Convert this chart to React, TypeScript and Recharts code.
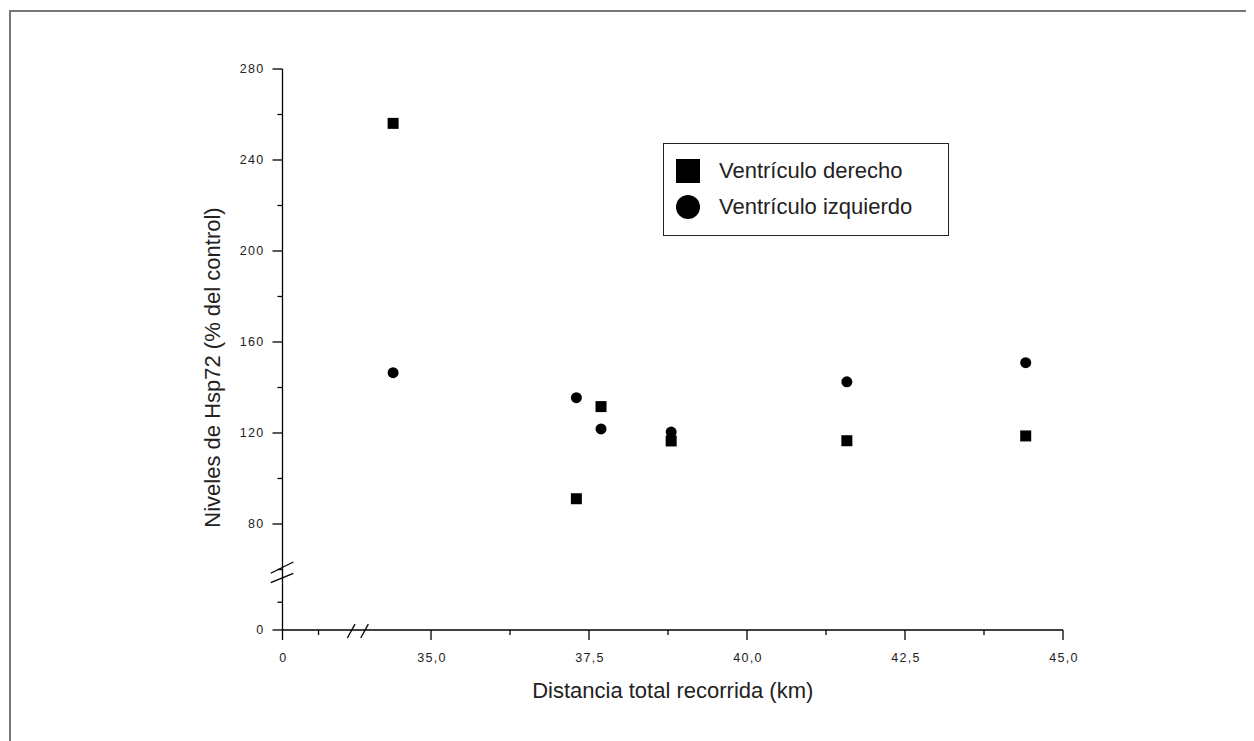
import React from 'react';
import { ScatterChart, Scatter, XAxis, YAxis, ReferenceLine } from 'recharts';

// ---- data ----
const distancias = [34.4, 37.3, 37.69, 38.8, 41.58, 44.41];
const derechoY = [256.1, 91.1, 131.6, 116.5, 116.6, 118.7];
const izquierdoY = [146.5, 135.5, 121.8, 120.4, 142.5, 150.9];

const xMajorTicks = [0, 35, 37.5, 40, 42.5, 45];
const xTickLabels = ['0', '35,0', '37,5', '40,0', '42,5', '45,0'];
const xMinorTicks = [5, 36.25, 38.75, 41.25, 43.75];

const yMajorTicks = [0, 80, 120, 160, 200, 240, 280];
const yTickLabels = ['0', '80', '120', '160', '200', '240', '280'];
const yMinorTicks = [10, 60, 100, 140, 180, 220, 260];

const seriesNames = ['Ventrículo derecho', 'Ventrículo izquierdo'];

// ---- broken-axis mapping (lower segment compressed) ----
const axX = (v: number) => (v < 20 ? 32.65 + v * 0.114 : v);
const axY = (v: number) => (v < 50 ? 33.4 + v * 1.22 : v);

const derechoData = distancias.map((x, i) => ({ x: axX(x), y: axY(derechoY[i]) }));
const izquierdoData = distancias.map((x, i) => ({ x: axX(x), y: axY(izquierdoY[i]) }));

const FONT = '"Liberation Sans", Arial, Helvetica, sans-serif';

const findMajor = (list: number[], map: (v: number) => number, v: number) =>
  list.findIndex((t) => Math.abs(map(t) - v) < 1e-6);

const XTick = (props: any) => {
  const { x, y, payload } = props;
  const idx = findMajor(xMajorTicks, axX, payload.value);
  const major = idx >= 0;
  return (
    <g>
      <line x1={x} x2={x} y1={y} y2={y + (major ? 10 : 5)} stroke="#000" strokeWidth={1.3} />
      {major && (
        <text
          x={x + 1}
          y={y + 28}
          textAnchor="middle"
          dominantBaseline="central"
          fontFamily={FONT}
          fontSize={12.5}
          letterSpacing={1.3}
          fill="#222"
        >
          {xTickLabels[idx]}
        </text>
      )}
    </g>
  );
};

const YTick = (props: any) => {
  const { x, y, payload } = props;
  const idx = findMajor(yMajorTicks, axY, payload.value);
  const major = idx >= 0;
  return (
    <g>
      <line x1={x} x2={x - (major ? 10 : 5)} y1={y} y2={y} stroke="#000" strokeWidth={1.3} />
      {major && (
        <text
          x={x - 18}
          y={y}
          textAnchor="end"
          dominantBaseline="central"
          fontFamily={FONT}
          fontSize={12.5}
          letterSpacing={1.3}
          fill="#222"
        >
          {yTickLabels[idx]}
        </text>
      )}
    </g>
  );
};

const SquareShape = (props: any) => {
  const { cx, cy } = props;
  return <rect x={cx - 5.5} y={cy - 5.5} width={11} height={11} fill="#000" />;
};
const CircleShape = (props: any) => {
  const { cx, cy } = props;
  return <circle cx={cx} cy={cy} r={5.5} fill="#000" />;
};

const xTicksAll = [...xMajorTicks, ...xMinorTicks].map(axX).sort((a, b) => a - b);
const yTicksAll = [...yMajorTicks, ...yMinorTicks].map(axY).sort((a, b) => a - b);

export default function App() {
  return (
    <div style={{ position: 'relative', width: 1246, height: 733, overflow: 'hidden', background: '#fff' }}>
      <div
        style={{
          position: 'absolute',
          left: 1,
          top: 2,
          width: 1400,
          height: 900,
          borderTop: '2px solid #777',
          borderLeft: '2px solid #777',
        }}
      />
      <ScatterChart
        width={1246}
        height={733}
        margin={{ top: 61, right: 191, bottom: 71, left: 214.5 }}
        style={{ position: 'absolute', left: 0, top: 0 }}
      >
        <XAxis
          type="number"
          dataKey="x"
          domain={[axX(0), 45]}
          ticks={xTicksAll}
          interval={0}
          tickSize={0}
          tickMargin={0}
          tickLine={false}
          tick={<XTick />}
          height={40}
          axisLine={{ stroke: '#000', strokeWidth: 1.3 }}
          allowDataOverflow
          label={{
            content: (p: any) => {
              const vb = p.viewBox || {};
              return (
                <text
                  x={vb.x + vb.width / 2}
                  y={vb.y + 60}
                  textAnchor="middle"
                  dominantBaseline="central"
                  fontFamily={FONT}
                  fontSize={22}
                  fill="#222"
                >
                  Distancia total recorrida (km)
                </text>
              );
            },
          }}
        />
        <YAxis
          type="number"
          dataKey="y"
          domain={[axY(0), 280]}
          ticks={yTicksAll}
          interval={0}
          tickSize={0}
          tickMargin={0}
          tickLine={false}
          tick={<YTick />}
          width={60}
          axisLine={{ stroke: '#000', strokeWidth: 1.3 }}
          allowDataOverflow
          label={{
            content: (p: any) => {
              const vb = p.viewBox || {};
              const cx = vb.x - 10;
              const cy = vb.y + vb.height / 2 + 18;
              return (
                <text
                  x={cx}
                  y={cy}
                  transform={`rotate(-90 ${cx} ${cy})`}
                  textAnchor="middle"
                  dominantBaseline="central"
                  fontFamily={FONT}
                  fontSize={22}
                  fill="#222"
                >
                  Niveles de Hsp72 (% del control)
                </text>
              );
            },
          }}
        />
        <Scatter name={seriesNames[1]} data={izquierdoData} shape={<CircleShape />} isAnimationActive={false} />
        <Scatter name={seriesNames[0]} data={derechoData} shape={<SquareShape />} isAnimationActive={false} />
        {/* axis break marks */}
        <ReferenceLine segment={[{ x: 33.676, y: 29.9 }, { x: 33.797, y: 36.0 }]} stroke="#000" strokeWidth={1.3} ifOverflow="visible" />
        <ReferenceLine segment={[{ x: 33.888, y: 29.9 }, { x: 34.008, y: 36.0 }]} stroke="#000" strokeWidth={1.3} ifOverflow="visible" />
        <ReferenceLine segment={[{ x: 32.464, y: 58.33 }, { x: 32.821, y: 63.3 }]} stroke="#000" strokeWidth={1.3} ifOverflow="visible" />
        <ReferenceLine segment={[{ x: 32.464, y: 54.2 }, { x: 32.821, y: 58.33 }]} stroke="#000" strokeWidth={1.3} ifOverflow="visible" />
      </ScatterChart>
      {/* legend */}
      <div
        style={{
          position: 'absolute',
          left: 655,
          top: 135,
          width: 284,
          height: 91,
          border: '1.5px solid #222',
          background: '#fff',
          fontFamily: FONT,
          fontSize: 22,
          color: '#222',
        }}
      >
        <div style={{ position: 'absolute', left: 12, top: 15, width: 24, height: 24, background: '#000' }} />
        <div style={{ position: 'absolute', left: 55, top: 13, lineHeight: '28px', whiteSpace: 'nowrap' }}>{seriesNames[0]}</div>
        <div style={{ position: 'absolute', left: 12, top: 51, width: 24, height: 24, borderRadius: 12, background: '#000' }} />
        <div style={{ position: 'absolute', left: 55, top: 49, lineHeight: '28px', whiteSpace: 'nowrap' }}>{seriesNames[1]}</div>
      </div>
    </div>
  );
}
